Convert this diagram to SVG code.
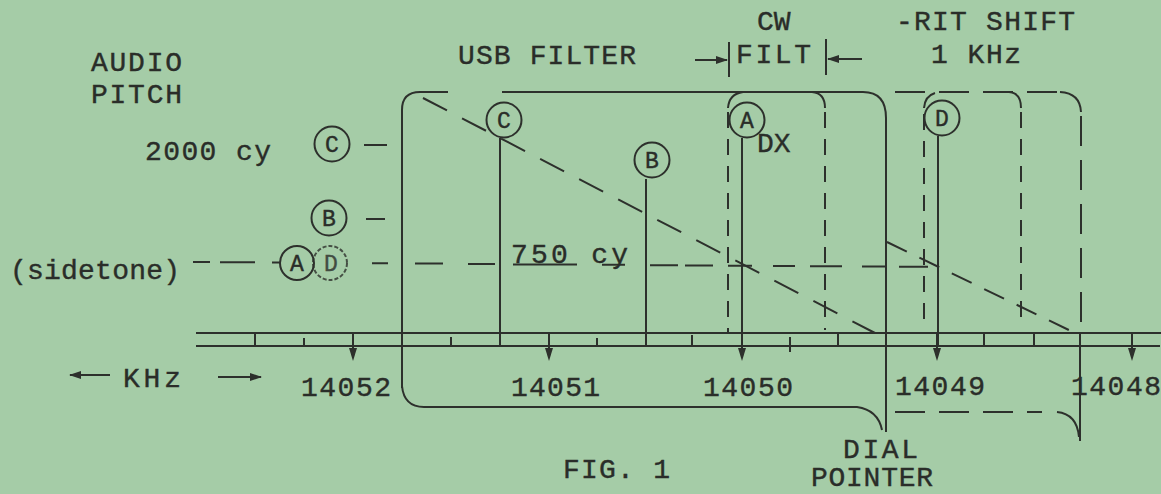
<svg xmlns="http://www.w3.org/2000/svg" width="1161" height="494" viewBox="0 0 1161 494">
<defs>
<style>
text{font-family:"Courier New","Liberation Mono",monospace;font-size:28px;fill:#2a2d29;stroke:#2a2d29;stroke-width:0.4}
.cl{font-size:23px;text-anchor:middle}
.s{fill:none;stroke:#2d302c;stroke-width:2}
.d{fill:none;stroke:#2d302c;stroke-width:2;stroke-dasharray:27 17}
.v{fill:none;stroke:#2d302c;stroke-width:2;stroke-dasharray:16 11}
.r{fill:none;stroke:#2d302c;stroke-width:2;stroke-dasharray:30 14}
.c{fill:none;stroke:#2d302c;stroke-width:2}
.ar{fill:none;stroke:#2d302c;stroke-width:2;marker-end:url(#ah)}
</style>
<marker id="ah" viewBox="0 0 12 8" refX="11" refY="4" markerWidth="12" markerHeight="8" markerUnits="userSpaceOnUse" orient="auto">
<path d="M0,0 L12,4 L0,8 z" fill="#2d302c"/>
</marker>
<g id="dt">
<path d="M0,333 V350" stroke="#2d302c" stroke-width="2"/>
<path d="M-4,348 L4,348 L0,361 z" fill="#2d302c"/>
</g>
</defs>
<rect width="1161" height="494" fill="#a5cca7"/>

<g id="connectors">
<!-- axis -->
<path class="s" d="M196 333 H1161 M196 346 H1160"/>
<path class="s" d="M255 333V346 M304 338V346 M451 337V346 M597 338V346 M692 335V346 M790 337V352 M838 334V347 M984 334V347 M1034 333V347"/>
<use href="#dt" x="353"/>
<use href="#dt" x="549"/>
<use href="#dt" x="742"/>
<use href="#dt" x="937"/>
<use href="#dt" x="1132"/>

<!-- USB filter box -->
<path class="s" d="M402 388 V110 Q402 92 420 92 H448 M502 92 H863 Q886 92 886 118 V432"/>
<path class="s" d="M402 386 Q404 407 424 407 H857 Q878 410 882 430"/>

<!-- CW filter (dashed) -->
<path class="s" d="M728 108 Q729 94 743 92 M812 92 Q825 93 825 108"/>
<path class="v" d="M728 112 V333 M825 112 V330"/>

<!-- shifted CW filter -->
<path class="s" d="M924 108 Q925 96 935 93 M1009 92 Q1021 93 1021 108"/>
<path class="v" d="M924 114 V320 M1021 112 V328"/>

<!-- RIT shifted USB filter -->
<path class="r" d="M895 92 H1058"/>
<path class="s" d="M1060 92 Q1080 93 1081 112"/>
<path class="r" d="M1081 116 V333"/>
<path class="s" d="M1080 333 V441"/>
<path class="r" d="M895 412 H1042"/>
<path class="s" d="M1057 412 Q1077 414 1079 437"/>

<!-- signal lines -->
<path class="s" d="M500 138 V347 M646 179 V347 M742 138 V347 M938 136 V347"/>

<!-- audio pitch diagonals -->
<path class="d" d="M423 98 L875 333"/>
<path class="d" d="M887 242 L1075 333" style="stroke-dasharray:22 14"/>

<!-- sidetone line -->
<path class="s" d="M193 262 H210 M220 262.3 H255 M272 262.6 H281 M372 263.3 H388 M415 263.6 H443 M468 264 H495 M513 264.4 H577 M602 264.8 H625 M650 265.2 H678 M685 265.4 H713 M728 265.7 H752 M773 266 H795 M810 266.3 H842 M862 266.5 H886 M899 266.8 H928"/>
<path class="s" d="M364 145 H387 M366 219 H385"/>

<!-- KHz arrows -->
<path class="ar" d="M110 375 H70"/>
<path class="ar" d="M218 377 H261"/>

<!-- CW FILT width arrows -->
<path class="ar" d="M695 60 H727"/>
<path class="s" d="M729 42 V77 M826 39 V75"/>
<path class="ar" d="M862 59 H828"/>
</g>

<g id="node-C-left"><circle class="c" cx="332" cy="144" r="17.5"/><text class="cl" x="332" y="152">C</text></g>
<g id="node-B-left"><circle class="c" cx="329" cy="218" r="17.5"/><text class="cl" x="329" y="226">B</text></g>
<g id="node-A-left"><circle class="c" cx="297" cy="263" r="17"/><text class="cl" x="297" y="271">A</text></g>
<g id="node-D-left"><circle class="c" cx="330" cy="263" r="17" style="stroke-dasharray:4 2;opacity:.8"/><text class="cl" x="331" y="271" style="opacity:.8">D</text></g>

<g id="node-C"><circle class="c" cx="504" cy="120" r="17.5"/><text class="cl" x="504" y="128">C</text></g>
<g id="node-B"><circle class="c" cx="652" cy="160" r="17.5"/><text class="cl" x="652" y="168">B</text></g>
<g id="node-A"><circle class="c" cx="747" cy="120" r="17.5"/><text class="cl" x="747" y="128">A</text></g>
<g id="node-D"><circle class="c" cx="942" cy="118" r="17.5"/><text class="cl" x="942" y="126">D</text></g>

<g id="labels">
<text x="91" y="71" textLength="91">AUDIO</text>
<text x="91" y="103" textLength="91">PITCH</text>
<text x="145" y="160" textLength="126">2000 cy</text>
<text x="10" y="279" textLength="170">(sidetone)</text>
<text x="458" y="64" textLength="178">USB FILTER</text>
<text x="757" y="30">CW</text>
<text x="736" y="63" textLength="75">FILT</text>
<text x="896" y="30" textLength="179">-RIT SHIFT</text>
<text x="931" y="63" textLength="90">1 KHz</text>
<text x="757" y="152">DX</text>
<text x="511" y="263" textLength="117">750 cy</text>
<text x="123" y="387" textLength="58">KHz</text>
<text x="301" y="396" textLength="90">14052</text>
<text x="511" y="396" textLength="89">14051</text>
<text x="703" y="396" textLength="90">14050</text>
<text x="895" y="395" textLength="90">14049</text>
<text x="1071" y="395" textLength="90">14048</text>
<text x="563" y="478" textLength="107">FIG. 1</text>
<text x="843" y="458" textLength="75">DIAL</text>
<text x="811" y="486" textLength="122">POINTER</text>
</g>
</svg>
